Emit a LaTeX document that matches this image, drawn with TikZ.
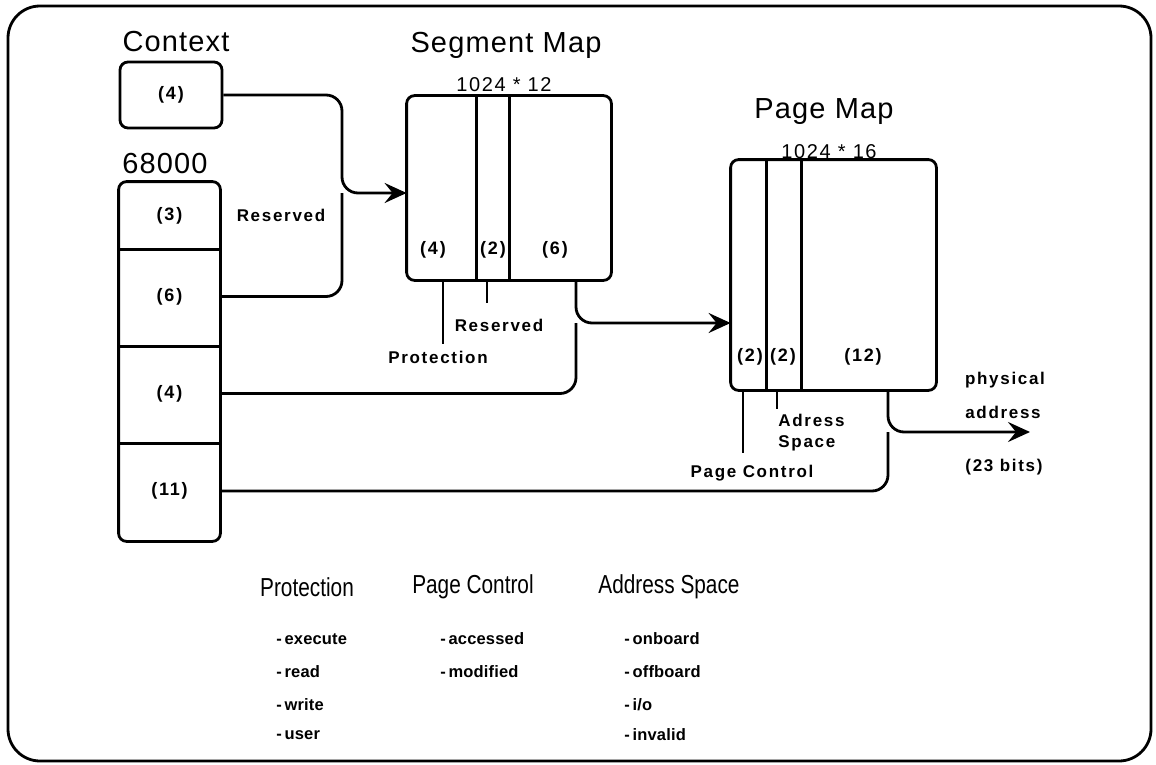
\documentclass[tikz,border=0pt]{standalone}
\usepackage{fontspec}
\setmainfont{Liberation Sans}
\newfontfamily\ttlfont[LetterSpace=4]{Liberation Sans}
\newfontfamily\dimfont[LetterSpace=8]{Liberation Sans}
\newfontfamily\lblfont[LetterSpace=10]{Liberation Sans}
\newfontfamily\itemfont[LetterSpace=1]{Liberation Sans}
\newfontfamily\narrowfont[FakeStretch=0.8]{Liberation Sans}
\usetikzlibrary{arrows.meta,calc}
\begin{document}
\begin{tikzpicture}[x=1pt,y=-1pt,
  line width=2.8pt,
  ttl/.style={font=\ttlfont\fontsize{29}{32}\selectfont, inner sep=0},
  lbl/.style={font=\lblfont\bfseries\fontsize{17}{20}\selectfont, inner sep=0},
  dimlbl/.style={font=\dimfont\fontsize{20}{22}\selectfont, inner sep=0},
  head/.style={font=\narrowfont\fontsize{26}{28}\selectfont, inner sep=0},
  item/.style={font=\itemfont\bfseries\fontsize{16.5}{19}\selectfont, inner sep=0, anchor=west},
  cell/.style={inner sep=0, font=\lblfont\bfseries\fontsize{18}{20}\selectfont},
  conn/.style={line width=2.8pt, rounded corners=16pt},
  arr/.style={-{Stealth[length=22pt,width=20pt,inset=8pt]}},
  tick/.style={line width=2.6pt}
]
\useasboundingbox (0,0) rectangle (1156,765);
% outer frame
\draw[rounded corners=32pt] (8,6) rectangle (1151,761);

% titles
\node[ttl] (tctx) at (176,42) {Context};
\node[ttl] (t68k) at (165,164) {68000};
\node[ttl] (tseg) at (506,45) {Segment Map};
\node[ttl] (tpage) at (824,112) {Page Map};

% context register
\node[cell, draw, rounded corners=8pt, minimum width=102pt, minimum height=66pt] (ctx) at (171,95) {(4)};

% 68000 address
\node[cell, minimum width=99pt, minimum height=65pt] (c3) at (169.5,215.5) {(3)};
\node[cell, minimum width=99pt, minimum height=97pt] (c6) at (169.5,296.5) {(6)};
\node[cell, minimum width=99pt, minimum height=97pt] (c4) at (169.5,393.5) {(4)};
\node[cell, minimum width=99pt, minimum height=98pt] (c11) at (169.5,491) {(11)};
\draw[rounded corners=8pt] (c3.north west) rectangle (c11.south east);
\draw (c3.south west) -- (c3.south east);
\draw (c6.south west) -- (c6.south east);
\draw (c4.south west) -- (c4.south east);
\node[lbl] (res1) at (281,215) {Reserved};

% segment map
\node[cell, minimum width=67pt, minimum height=182pt] (sm1) at (441.5,188) {};
\node[cell, minimum width=33pt, minimum height=182pt] (sm2) at (491.5,188) {};
\node[cell, minimum width=102pt, minimum height=182pt] (sm3) at (559,188) {};
\draw[rounded corners=8pt] (sm1.north west) rectangle (sm3.south east);
\draw (sm1.north east) -- (sm1.south east);
\draw (sm2.north east) -- (sm2.south east);
\node[dimlbl] (dseg) at (504,85) {1024 * 12};
\node[cell] at (433,250) {(4)};
\node[cell] at (493,250) {(2)};
\node[cell] at (555,250) {(6)};

% page map
\node[cell, minimum width=33pt, minimum height=228pt] (pm1) at (748.5,275) {};
\node[cell, minimum width=35pt, minimum height=228pt] (pm2) at (782.5,275) {};
\node[cell, minimum width=135pt, minimum height=228pt] (pm3) at (867.5,275) {};
\draw[rounded corners=8pt] (pm1.north west) rectangle (pm3.south east);
\draw (pm1.north east) -- (pm1.south east);
\draw (pm2.north east) -- (pm2.south east);
\node[dimlbl] (dpage) at (829,152) {1024 * 16};
\node[cell] at (750,357) {(2)};
\node[cell] at (783,357) {(2)};
\node[cell] at (863,357) {(12)};

% connectors
\coordinate (m1) at (342,193);
\coordinate (m2) at (576,323);
\coordinate (m3) at (888,432);
\coordinate (phys) at (1030,432);
\draw[conn,arr] (ctx.east) -| (m1) -- (m1 -| sm1.west);
\draw[conn] (c6.east) -| (m1);
\draw[conn,arr] (sm3.south -| m2) -- (m2) -- (m2 -| pm1.west);
\draw[conn] (c4.east) -| (m2);
\draw[conn,arr] (pm3.south -| m3) -- (m3) -- (phys);
\draw[conn] (c11.east) -| (m3);

% field ticks
\draw[tick] ([xshift=1.5pt]sm1.south) -- ++(0,64);
\draw[tick] ([xshift=-4.5pt]sm2.south) -- ++(0,23);
\draw[tick] ([xshift=-5.5pt]pm1.south) -- ++(0,63);
\draw[tick] ([xshift=-5.5pt]pm2.south) -- ++(0,19);

\node[lbl] (res2) at (499,325) {Reserved};
\node[lbl] (prot) at (438,357) {Protection};
\node[lbl, anchor=north west, align=left, font=\lblfont\bfseries\fontsize{17}{21}\selectfont] (adsp) at (777,413) {Adress\\Space};
\node[lbl] (pctl) at (752,473) {Page Control};
\node[lbl] (phy1) at (1005,380) {physical};
\node[lbl] (phy2) at (1003,412) {address};
\node[lbl] (phy3) at (1004,467) {(23 bits)};

% legend
\node[head] (hprot) at (307,587) {Protection};
\node[head] (hpc) at (473,587) {Page Control};
\node[head] (has) at (669,587) {Address Space};
\node[item] at (275,639) {-\,execute};
\node[item] at (275,672) {-\,read};
\node[item] at (275,705) {-\,write};
\node[item] at (275,735) {-\,user};
\node[item] at (439,639) {-\,accessed};
\node[item] at (439,672) {-\,modified};
\node[item] at (623,639) {-\,onboard};
\node[item] at (623,672) {-\,offboard};
\node[item] at (623,705) {-\,i/o};
\node[item] at (623,735) {-\,invalid};
\end{tikzpicture}
\end{document}
